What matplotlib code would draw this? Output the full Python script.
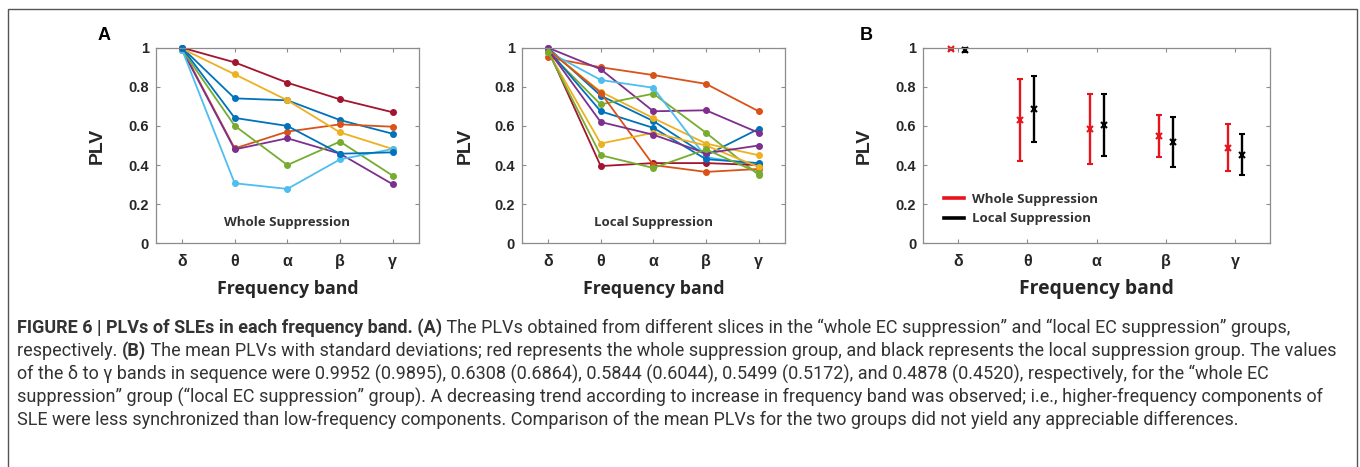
import numpy as np
import matplotlib
matplotlib.use('Agg')
import matplotlib.pyplot as plt
from matplotlib import font_manager as fm
from matplotlib.lines import Line2D
from matplotlib.patches import Rectangle

# frequency bands on the x axis
bands = ['δ', 'θ', 'α', 'β', 'γ']

# MATLAB default colour order
c_blue = '#0072BD'
c_orange = '#D95319'
c_yellow = '#EDB120'
c_purple = '#7E2F8E'
c_green = '#77AC30'
c_lblue = '#4DBEEE'
c_dred = '#A2142F'

# panel A left: PLVs of each slice, whole EC suppression
whole_colors = [c_blue, c_orange, c_yellow, c_purple, c_green, c_lblue, c_dred, c_blue]
whole_slices = [
    [1.000, 0.741, 0.731, 0.630, 0.560],
    [0.995, 0.485, 0.571, 0.608, 0.596],
    [0.995, 0.864, 0.731, 0.567, 0.482],
    [0.990, 0.480, 0.537, 0.458, 0.302],
    [0.990, 0.601, 0.400, 0.520, 0.346],
    [0.990, 0.307, 0.278, 0.429, 0.482],
    [1.000, 0.925, 0.821, 0.736, 0.670],
    [1.000, 0.641, 0.600, 0.458, 0.465],
]

# panel A right: PLVs of each slice, local EC suppression
local_colors = [c_blue, c_orange, c_yellow, c_purple, c_green, c_lblue,
                c_dred, c_blue, c_orange, c_yellow, c_purple, c_green]
local_slices = [
    [1.000, 0.755, 0.625, 0.450, 0.585],
    [0.950, 0.900, 0.860, 0.815, 0.675],
    [0.990, 0.775, 0.640, 0.510, 0.450],
    [1.000, 0.890, 0.675, 0.680, 0.565],
    [0.980, 0.710, 0.765, 0.565, 0.350],
    [0.980, 0.835, 0.795, 0.440, 0.400],
    [0.990, 0.395, 0.410, 0.410, 0.400],
    [0.990, 0.675, 0.590, 0.430, 0.410],
    [0.990, 0.770, 0.400, 0.365, 0.380],
    [0.980, 0.510, 0.565, 0.500, 0.390],
    [0.990, 0.620, 0.555, 0.460, 0.500],
    [0.980, 0.450, 0.385, 0.480, 0.360],
]

# panel B: mean and std
whole_mean = [0.9952, 0.6308, 0.5844, 0.5499, 0.4878]
local_mean = [0.9895, 0.6864, 0.6044, 0.5172, 0.4520]
whole_std = [0.005, 0.210, 0.180, 0.107, 0.120]
local_std = [0.010, 0.167, 0.160, 0.126, 0.105]

W, H = 1360, 467
fig = plt.figure(figsize=(W / 100, H / 100), dpi=100)


def bold_family(cands):
    # first family that really has a bold face installed
    for fam in cands:
        try:
            p = fm.findfont(fm.FontProperties(family=fam, weight='bold'), fallback_to_default=False)
        except Exception:
            continue
        if 'bold' in p.lower() or '[wght]' in p.lower() or 'variable' in p.lower():
            return fam
    return 'Liberation Sans'


tick_font = 'Liberation Sans'
lab_font = bold_family(['Noto Sans', 'Open Sans', 'Lato', 'Liberation Sans'])
spine_c = '#8c8c8c'
txt_c = '#262626'


def px_axes(left, right, top, bottom):
    return fig.add_axes([left / W, 1 - bottom / H, (right - left) / W, (bottom - top) / H])


def style(ax, label_x):
    x = np.arange(1, len(bands) + 1)
    ax.set_xlim(0.5, 5.5)
    ax.set_ylim(0, 1)
    ax.set_xticks(x)
    ax.set_xticklabels(bands)
    ax.set_yticks([0, 0.2, 0.4, 0.6, 0.8, 1])
    ax.set_yticklabels(['0', '0.2', '0.4', '0.6', '0.8', '1'])
    for s in ax.spines.values():
        s.set_color(spine_c)
        s.set_linewidth(0.9)
    ax.tick_params(direction='in', length=3, width=0.8, color=spine_c,
                   top=True, right=True, labelsize=10.5, labelcolor=txt_c, pad=5)
    ax.tick_params(axis='x', pad=8, labelsize=11.5)
    for t in ax.get_xticklabels() + ax.get_yticklabels():
        t.set_fontweight('bold')
        t.set_family(tick_font)
    ax.set_ylabel('PLV', fontsize=14, fontweight='bold', family=tick_font, color=txt_c)
    ax.yaxis.set_label_coords(label_x, 0.5)


def xlabel(ax, size):
    ax.set_xlabel('Frequency band', fontsize=size, fontweight='bold', family=lab_font, color=txt_c)
    ax.xaxis.set_label_coords(0.5, -0.235)
    ax.xaxis.label.set_va('center')


x = np.arange(1, len(bands) + 1)

# panel A, whole suppression
ax1 = px_axes(155.7, 419, 47.7, 243.3)
for vals, c in zip(whole_slices, whole_colors):
    ax1.plot(x, vals, '-o', color=c, lw=1.3, ms=4, clip_on=False)
style(ax1, -0.189)
ax1.text(3, 0.106, 'Whole Suppression', ha='center', va='center', fontsize=9.5,
         fontweight='bold', family=lab_font, color='#333333')

# panel A, local suppression
ax2 = px_axes(521.7, 785, 47.7, 243.3)
for vals, c in zip(local_slices, local_colors):
    ax2.plot(x, vals, '-o', color=c, lw=1.3, ms=4, clip_on=False)
style(ax2, -0.184)
ax2.text(3, 0.106, 'Local Suppression', ha='center', va='center', fontsize=9.5,
         fontweight='bold', family=lab_font, color='#333333')

# panel B, mean +- std
ax3 = px_axes(923.3, 1270, 47.7, 243.3)
for xs, m, sd, c in [(x - 0.1, whole_mean, whole_std, '#e8141c'),
                     (x + 0.1, local_mean, local_std, 'black')]:
    eb = ax3.errorbar(xs, m, yerr=sd, fmt='x', color=c, ms=5, mew=1.5,
                      elinewidth=1.7, capsize=2.5, capthick=1.7)
    for art in eb.lines[0:1] + tuple(eb.lines[1]) + tuple(eb.lines[2]):
        art.set_clip_on(False)
style(ax3, -0.145)
handles = [Line2D([], [], color='#e8141c', lw=2.6), Line2D([], [], color='black', lw=2.6)]
leg = ax3.legend(handles, ['Whole Suppression', 'Local Suppression'], frameon=False,
                 loc='center left', bbox_to_anchor=(0.025, 0.175), handlelength=1.5,
                 handletextpad=0.6, labelspacing=0.5,
                 prop={'family': lab_font, 'weight': 'bold', 'size': 9.5})
for t in leg.get_texts():
    t.set_color('#333333')

# x labels, sized to the widths in the figure
renderer = fig.canvas.get_renderer()
for ax, target in [(ax1, 141), (ax2, 141), (ax3, 154)]:
    xlabel(ax, 12)
    wdt = ax.xaxis.label.get_window_extent(renderer).width
    ax.xaxis.label.set_fontsize(12 * target / wdt)

# panel letters
fig.text(104 / W, 1 - 35 / H, 'A', fontsize=13, fontweight='bold', family=tick_font,
         ha='center', va='center')
fig.text(866 / W, 1 - 35 / H, 'B', fontsize=13, fontweight='bold', family=tick_font,
         ha='center', va='center')

# frame round the figure
fig.patches.append(Rectangle((8 / W, -0.1), (1357 - 8) / W, 1.1 - 9 / H, transform=fig.transFigure,
                             fill=False, ec='#555555', lw=1.0))

# caption
cap_font = [bold_family(['Roboto', 'Liberation Sans']), 'DejaVu Sans']

caption = [
    [('FIGURE 6 | PLVs of SLEs in each frequency band. (A)', 'bold'),
     (' The PLVs obtained from different slices in the \u201cwhole EC suppression\u201d and \u201clocal EC suppression\u201d groups,', 'normal')],
    [('respectively. ', 'normal'), ('(B)', 'bold'),
     (' The mean PLVs with standard deviations; red represents the whole suppression group, and black represents the local suppression group. The values', 'normal')],
    [('of the \u03b4 to \u03b3 bands in sequence were 0.9952 (0.9895), 0.6308 (0.6864), 0.5844 (0.6044), 0.5499 (0.5172), and 0.4878 (0.4520), respectively, for the \u201cwhole EC', 'normal')],
    [('suppression\u201d group (\u201clocal EC suppression\u201d group). A decreasing trend according to increase in frequency band was observed; i.e., higher-frequency components of', 'normal')],
    [('SLE were less synchronized than low-frequency components. Comparison of the mean PLVs for the two groups did not yield any appreciable differences.', 'normal')],
]
cap_y = [328, 351, 374, 397, 420]
cap_x0 = 17


def draw_runs(runs, y, size, draw=True):
    xx = cap_x0
    for s, w in runs:
        t = fig.text(xx / W, 1 - y / H, s, fontsize=size, fontweight=w, family=cap_font,
                     color='#333333', ha='left', va='center')
        xx += t.get_window_extent(renderer).width
        if not draw:
            t.remove()
    return xx


# fit the longest caption line to the frame width
longest = max(draw_runs(r, -100, 10, draw=False) for r in caption)
cap_size = 10 * (1340 - cap_x0) / (longest - cap_x0)
for runs, y in zip(caption, cap_y):
    draw_runs(runs, y, cap_size)

fig.savefig('out.png', dpi=100)
